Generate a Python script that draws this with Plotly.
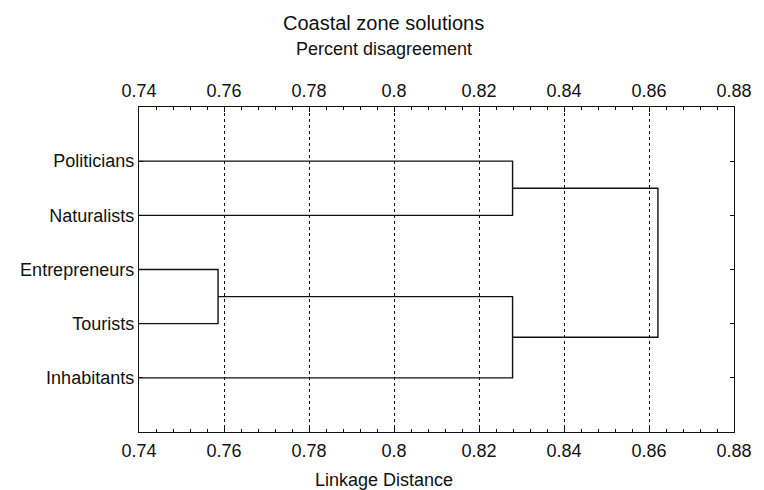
import plotly.graph_objects as go

# ---- data ----
leaves = ["Politicians", "Naturalists", "Entrepreneurs", "Tourists", "Inhabitants"]
# merges: (cluster A, cluster B, linkage distance); new clusters are numbered 5, 6, ...
merge_a = [2, 0, 5, 6]
merge_b = [3, 1, 4, 7]
merge_height = [0.7586, 0.8279, 0.8279, 0.8621]
x_tick_values = [0.74, 0.76, 0.78, 0.80, 0.82, 0.84, 0.86, 0.88]
x_tick_labels = ["0.74", "0.76", "0.78", "0.8", "0.82", "0.84", "0.86", "0.88"]
x_min, x_max = 0.74, 0.88

title_text = "Coastal zone solutions"
top_axis_title = "Percent disagreement"
bottom_axis_title = "Linkage Distance"

# ---- build dendrogram segments from the merge table ----
pos = {i: (x_min, i + 1) for i in range(len(leaves))}  # cluster -> (height, y position)
xs, ys = [], []
for k, (a, b, h) in enumerate(zip(merge_a, merge_b, merge_height)):
    xa, ya = pos[a]
    xb, yb = pos[b]
    xs += [xa, h, h, xb, None]
    ys += [ya, ya, yb, yb, None]
    pos[len(leaves) + k] = (h, (ya + yb) / 2)

FONT = "Liberation Sans, Arial, sans-serif"
INK = "#111111"

fig = go.Figure()
fig.add_trace(go.Scatter(x=xs, y=ys, mode="lines",
                         line=dict(color=INK, width=1.4), hoverinfo="skip",
                         showlegend=False))
# invisible trace to activate the top axis
fig.add_trace(go.Scatter(x=[x_min, x_max], y=[0, 0], xaxis="x2", mode="markers",
                         marker=dict(opacity=0), showlegend=False, hoverinfo="skip"))

axis_common = dict(
    range=[x_min, x_max], tickmode="array", tickvals=x_tick_values,
    ticktext=x_tick_labels, tickfont=dict(family=FONT, size=18, color=INK),
    ticks="inside", ticklen=5, tickcolor=INK, showline=True, linecolor=INK,
    linewidth=1.4, zeroline=False,
)

fig.update_layout(
    width=764, height=490,
    margin=dict(l=139, r=19, t=107, b=58),
    paper_bgcolor="white", plot_bgcolor="white",
    font=dict(family=FONT, color=INK),
    xaxis=dict(**axis_common, mirror=True, showgrid=True, gridcolor=INK,
               gridwidth=1, griddash="dot",
               minor=dict(ticks="inside", dtick=0.004, tick0=0.74, ticklen=3,
                          tickcolor=INK, showgrid=False),
               ticklabelstandoff=2),
    xaxis2=dict(**axis_common, overlaying="x", side="top", showgrid=False,
                minor=dict(ticks="inside", dtick=0.004, tick0=0.74, ticklen=3,
                           tickcolor=INK, showgrid=False),
                ticklabelstandoff=2),
    yaxis=dict(range=[6, 0], tickmode="array", tickvals=list(range(1, len(leaves) + 1)),
               ticktext=leaves, tickfont=dict(family=FONT, size=18, color=INK),
               ticks="inside", ticklen=4, tickcolor=INK, showline=True,
               linecolor=INK, linewidth=1.4, mirror="ticks", showgrid=False,
               zeroline=False),
    annotations=[
        dict(text=title_text, xref="paper", yref="paper", x=0.411, y=1.2585,
             xanchor="center", yanchor="middle", showarrow=False,
             font=dict(family=FONT, size=20, color=INK)),
        dict(text=top_axis_title, xref="paper", yref="paper", x=0.411, y=1.178,
             xanchor="center", yanchor="middle", showarrow=False,
             font=dict(family=FONT, size=18, color=INK)),
        dict(text=bottom_axis_title, xref="paper", yref="paper", x=0.411, y=-0.148,
             xanchor="center", yanchor="middle", showarrow=False,
             font=dict(family=FONT, size=18, color=INK)),
    ],
)

fig.write_html("out.html", config={"displayModeBar": False},
               post_script="document.body.style.margin='0';document.body.style.overflow='hidden';")
